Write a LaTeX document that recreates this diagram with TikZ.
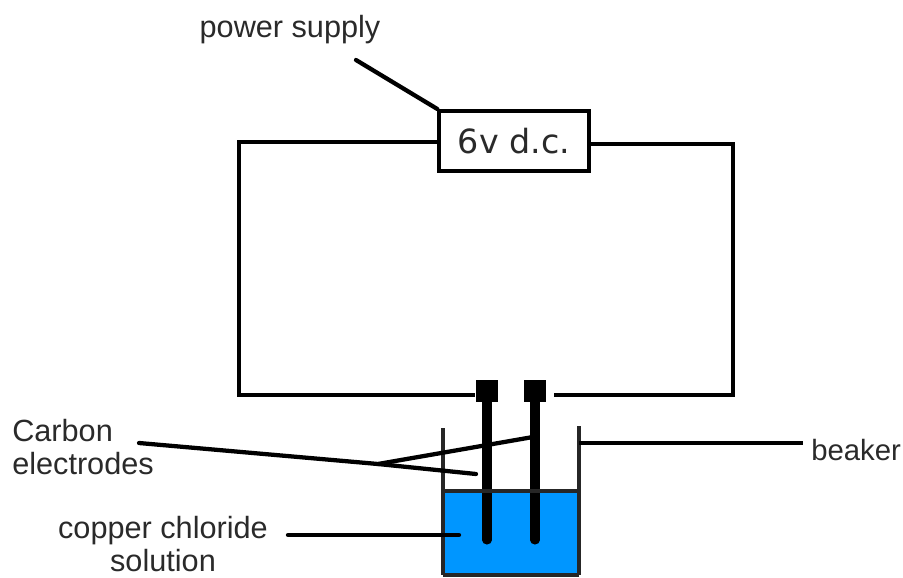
\documentclass[tikz,border=0pt]{standalone}
\usepackage{fontspec}
\setmainfont{Liberation Sans}
\newfontfamily\boxfont{DejaVu Sans}
\usepackage{xcolor}
\definecolor{solutionblue}{HTML}{0096FF}
\definecolor{labelgray}{HTML}{2A2A2A}
\tikzset{
  lbl/.style={inner sep=0pt, text=labelgray, font=\fontsize{23}{25}\selectfont, align=center},
  wire/.style={line width=3pt, black},
  leader/.style={line width=3.2pt, black, line cap=round},
  beakerwall/.style={line width=2.8pt, black!85},
  electrode/.style={line width=6.8pt, black, line cap=round},
  terminal/.style={fill=black, draw=none, minimum size=17pt, inner sep=0pt}
}
\begin{document}
\begin{tikzpicture}[x=0.75pt,y=-0.75pt]
  \useasboundingbox (0,0) rectangle (903,578);
  % solution
  \fill[solutionblue] (443,491) rectangle (579,575);
  % labels
  \node[lbl] (supplylbl) at (290,30) {power supply};
  \node[lbl, align=left, anchor=west] (carbonlbl) at (12,447) {Carbon\\electrodes};
  \node[lbl] (copperlbl) at (163,544) {copper chloride\\solution};
  \node[lbl, anchor=west, font=\fontsize{22}{25}\selectfont] (beakerlbl) at (811,450) {beaker};
  % power supply
  \node[draw, line width=3pt, minimum width=112pt, minimum height=45pt, inner sep=0pt,
        font=\boxfont\fontsize{25}{27}\selectfont, text=labelgray] (psu) at (514,141) {6v d.c.};
  % terminals
  \node[terminal] (termL) at (487,391) {};
  \node[terminal] (termR) at (535,391) {};
  % corners and ends
  \coordinate (psuL) at (psu.west |- 0,142);
  \coordinate (psuR) at (psu.east |- 0,144);
  \coordinate (cornerTL) at (239,142);
  \coordinate (cornerBL) at (239,395);
  \coordinate (cornerTR) at (733,144);
  \coordinate (cornerBR) at (733,395);
  \coordinate (wireEndR) at (554,395);
  \coordinate (tipL) at (487,540);
  \coordinate (tipR) at (535,540);
  \coordinate (rimL) at (443,428);
  \coordinate (rimR) at (579,426);
  \coordinate (baseL) at (443,575);
  \coordinate (baseR) at (579,575);
  \coordinate (level) at (443,491);
  \coordinate (levelR) at (579,491);
  \coordinate (fork) at (378,464);
  \coordinate (supplyEnd) at (356,60);
  \coordinate (carbonEnd) at (139,443);
  \coordinate (forkUp) at (533,437);
  \coordinate (forkDown) at (476,474);
  \coordinate (copperEnd) at (288,535);
  \coordinate (copperIn) at (459,535);
  \coordinate (beakerIn) at (579,443);
  \coordinate (beakerEnd) at (803,443);
  % circuit
  \draw[wire, line join=miter] (psuL) -- (cornerTL) -- (cornerBL) -- (termL.west |- cornerBL);
  \draw[wire, line join=miter] (psuR) -- (cornerTR) -- (cornerBR) -- (wireEndR);
  % electrodes
  \draw[electrode] (termL.south) -- (tipL);
  \draw[electrode] (termR.south) -- (tipR);
  % beaker
  \draw[beakerwall] (rimL) -- (baseL);
  \draw[beakerwall] (rimR) -- (baseR);
  \draw[beakerwall] (baseL) -- (baseR);
  \draw[beakerwall] (level) -- (levelR);
  % leaders
  \draw[leader] (supplyEnd) -- (psu.north west);
  \draw[leader] (carbonEnd) -- (fork) -- (forkUp);
  \draw[leader] (fork) -- (forkDown);
  \draw[leader] (copperEnd) -- (copperIn);
  \draw[wire] (beakerIn) -- (beakerEnd);
\end{tikzpicture}
\end{document}
